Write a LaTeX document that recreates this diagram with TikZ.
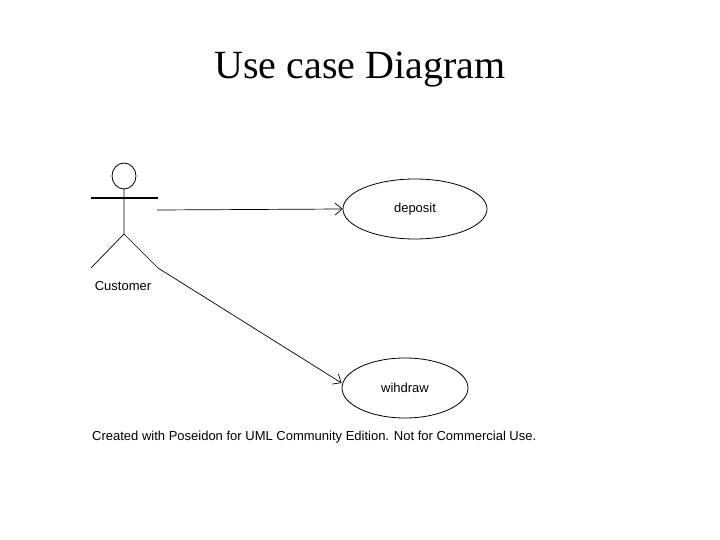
\documentclass[tikz,border=0pt]{standalone}
\usepackage{fontspec}
\setmainfont{Liberation Serif}
\newfontfamily\arial{Liberation Sans}
\usetikzlibrary{arrows.meta,shapes.geometric}
\begin{document}
\begin{tikzpicture}[x=1pt,y=-1pt,
  lbl/.style={font=\arial\fontsize{13}{15}\selectfont,inner sep=0},
  uc/.style={draw,ellipse,line width=0.8pt},
  assoc/.style={line width=0.7pt,-{Straight Barb[length=7pt,width=12pt]}}]
\useasboundingbox (0,0) rectangle (720,540);
\node[font=\fontsize{40}{44}\selectfont] (title) at (360,70) {Use case Diagram};
% actor
\draw[line width=0.8pt] (124,176) ellipse (12 and 13);
\coordinate (neck) at (124,189);
\coordinate (hip) at (124,234);
\coordinate (la) at (91,198);
\coordinate (ra) at (158,198);
\coordinate (ll) at (91,268);
\coordinate (rl) at (158,268);
\draw[line width=1.6pt] (la) -- (ra);
\draw[line width=0.7pt] (neck) -- (hip) (ll) -- (hip) -- (rl);
\node[lbl] (cust) at (123,286) {Customer};
\node[uc,minimum width=144,minimum height=60] (dep) at (415,209) {};
\node[lbl] at (dep) {deposit};
\node[uc,minimum width=126,minimum height=60] (wd) at (405,388) {};
\node[lbl] at (wd) {wihdraw};
\coordinate (a1) at (157,210);
\draw[assoc] (a1) -- (dep.west);
\draw[assoc] (rl) -- (wd.west |- 0,383);
\node[lbl,anchor=west] (foot) at (92,437) {Created with Poseidon for UML Community Edition. Not for Commercial Use.};
\end{tikzpicture}
\end{document}
